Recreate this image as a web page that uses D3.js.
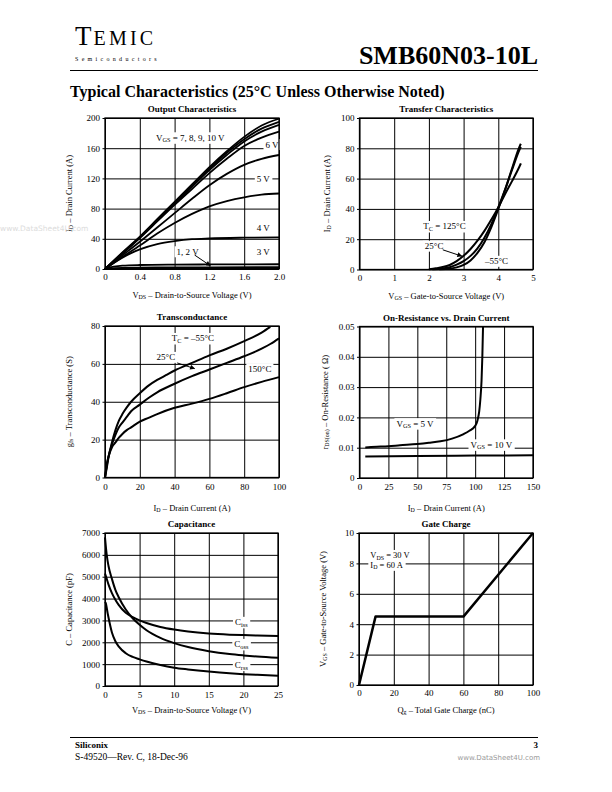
<!DOCTYPE html>
<html>
<head>
<meta charset="utf-8">
<script src="https://cdn.jsdelivr.net/npm/d3@7"></script>
<style>
  body { margin: 0; background: #fff; }
  svg { display: block; font-family: "Liberation Serif", "Times New Roman", serif; }
</style>
</head>
<body>
<div id="page"></div>
<script>
// ---- Output Characteristics (I_D vs V_DS) ----
const outXTicks = [0, 0.4, 0.8, 1.2, 1.6, 2.0];
const outXLabels = ["0", "0.4", "0.8", "1.2", "1.6", "2.0"];
const outYTicks = [0, 40, 80, 120, 160, 200];
const outYLabels = ["0", "40", "80", "120", "160", "200"];
const outVgs10 = [[0,0],[0.2,22],[0.4,43],[0.6,66],[0.8,89],[1.0,112],[1.2,135],[1.4,156],[1.6,175],[1.8,190],[2.0,199]];
const outVgs9  = [[0,0],[0.2,21],[0.4,42],[0.6,65],[0.8,88],[1.0,110],[1.2,133],[1.4,154],[1.6,172],[1.8,186],[2.0,195]];
const outVgs8  = [[0,0],[0.2,21],[0.4,42],[0.6,64],[0.8,87],[1.0,109],[1.2,131],[1.4,151],[1.6,169],[1.8,182],[2.0,191]];
const outVgs7  = [[0,0],[0.2,20],[0.4,41],[0.6,63],[0.8,85],[1.0,106],[1.2,127],[1.4,146],[1.6,163],[1.8,174],[2.0,182]];
const outVgs6  = [[0,0],[0.2,18],[0.4,36],[0.6,55],[0.8,74],[1.0,93],[1.2,111],[1.4,126],[1.6,138],[1.8,146],[2.0,151]];
const outVgs5  = [[0,0],[0.2,16],[0.4,31],[0.6,47],[0.8,61],[1.0,73],[1.2,83],[1.4,90],[1.6,95],[1.8,98.5],[2.0,100]];
const outVgs4  = [[0,0],[0.1,8],[0.2,15],[0.3,21],[0.4,26],[0.6,33],[0.8,37],[1.0,39.5],[1.2,40.5],[1.6,41.5],[2.0,42]];
const outVgs3  = [[0,0],[0.1,3],[0.2,4.5],[0.4,5.3],[0.8,5.8],[1.2,6],[2.0,6.3]];
const outVgs2  = [[0,0],[0.2,1.5],[0.6,2],[1.2,2.2],[2.0,2.4]];
const outVgs1  = [[0,0],[0.4,0.6],[1.2,0.8],[2.0,0.9]];

// ---- Transfer Characteristics (I_D vs V_GS) ----
const trXTicks = [0, 1, 2, 3, 4, 5];
const trXLabels = ["0", "1", "2", "3", "4", "5"];
const trYTicks = [0, 20, 40, 60, 80, 100];
const trYLabels = ["0", "20", "40", "60", "80", "100"];
const tr125 = [[2.0,0.2],[2.2,0.8],[2.4,1.6],[2.6,3],[2.8,5.5],[3.0,9],[3.2,13.5],[3.4,19],[3.6,25.5],[3.8,33],[4.0,41],[4.2,50],[4.4,58.5],[4.6,67.5],[4.65,70]];
const tr25  = [[2.1,0.1],[2.4,0.7],[2.6,1.5],[2.8,3.2],[3.0,5.5],[3.2,9],[3.4,14],[3.6,21],[3.8,30],[4.0,41],[4.2,53],[4.4,66],[4.6,78.5],[4.65,81]];
const trM55 = [[2.3,0.1],[2.6,0.5],[2.8,1.4],[3.0,3],[3.2,6],[3.4,11],[3.6,18],[3.8,28],[4.0,40],[4.2,53],[4.4,67],[4.6,80.5],[4.65,83]];

// ---- Transconductance (g_fs vs I_D) ----
const gfsXTicks = [0, 20, 40, 60, 80, 100];
const gfsXLabels = ["0", "20", "40", "60", "80", "100"];
const gfsYTicks = [0, 20, 40, 60, 80];
const gfsYLabels = ["0", "20", "40", "60", "80"];
const gfsM55 = [[0,0],[1,5],[2,10.5],[4,18.5],[6,25],[8,30],[10,33.5],[12.5,37],[15,40],[20,44.5],[25,48.5],[30,51.5],[35,54],[40,56.5],[50,60.5],[60,64.5],[70,68],[80,72],[90,76.5],[95,79.5]];
const gfs25  = [[0,0],[1,6],[2,11],[4,17.5],[6,22.5],[8,26.5],[10,29],[12.5,32],[15,35],[20,38.5],[25,42],[30,45],[40,49.5],[50,53.5],[60,57],[70,60.5],[80,64],[90,68],[95,70.5],[100,73.5]];
const gfs150 = [[0,0],[1,7],[2,11],[4,16],[6,18.5],[8,21],[10,23],[12.5,25],[15,26.5],[20,29.5],[25,31.5],[30,33.5],[40,36.8],[50,39],[60,41.5],[70,44.5],[80,47.7],[90,50.5],[100,53]];

// ---- On-Resistance vs. Drain Current ----
const rdsXTicks = [0, 25, 50, 75, 100, 125, 150];
const rdsXLabels = ["0", "25", "50", "75", "100", "125", "150"];
const rdsYTicks = [0, 0.01, 0.02, 0.03, 0.04, 0.05];
const rdsYLabels = ["0", "0.01", "0.02", "0.03", "0.04", "0.05"];
const rdsVgs5  = [[5,0.0101],[15,0.0103],[25,0.0105],[35,0.0108],[50,0.0112],[60,0.0116],[70,0.0121],[80,0.0130],[90,0.0145],[95,0.0156],[100,0.0172],[102,0.019],[103.5,0.022],[104.5,0.026],[105.5,0.032],[106.2,0.040],[106.8,0.05]];
const rdsVgs10 = [[5,0.0071],[50,0.0073],[100,0.0074],[150,0.0075]];

// ---- Capacitance ----
const capXTicks = [0, 5, 10, 15, 20, 25];
const capXLabels = ["0", "5", "10", "15", "20", "25"];
const capYTicks = [0, 1000, 2000, 3000, 4000, 5000, 6000, 7000];
const capYLabels = ["0", "1000", "2000", "3000", "4000", "5000", "6000", "7000"];
const ciss = [[0,5150],[0.25,4900],[0.5,4650],[1,4250],[1.5,3950],[2,3700],[3,3350],[4,3150],[5,3000],[6,2880],[8,2700],[10,2580],[12,2490],[15,2400],[18,2350],[20,2330],[22,2310],[25,2290]];
const coss = [[0,6800],[0.25,6000],[0.5,5500],[1,4900],[1.5,4400],[2,4050],[3,3500],[4,3100],[5,2800],[6,2550],[8,2200],[10,1960],[12,1780],[15,1590],[18,1460],[20,1400],[22,1350],[25,1290]];
const crss = [[0,3850],[0.1,3800],[0.4,3300],[1,2450],[1.5,2050],[2,1800],[3,1500],[4,1330],[5,1220],[6,1120],[8,960],[10,840],[12,760],[15,660],[18,580],[20,540],[22,510],[25,470]];

// ---- Gate Charge ----
const qgXTicks = [0, 20, 40, 60, 80, 100];
const qgXLabels = ["0", "20", "40", "60", "80", "100"];
const qgYTicks = [0, 2, 4, 6, 8, 10];
const qgYLabels = ["0", "2", "4", "6", "8", "10"];
const gateCharge = [[0,0],[9.5,4.5],[60,4.5],[100,10]];

const W = 612, H = 792;
const svg = d3.select("#page").append("svg")
    .attr("width", W)
    .attr("height", H);

// punta de flecha
svg.append("defs").append("marker")
    .attr("id", "arrow")
    .attr("viewBox", "0 -5 10 10")
    .attr("refX", 9)
    .attr("refY", 0)
    .attr("markerWidth", 6)
    .attr("markerHeight", 5)
    .attr("markerUnits", "userSpaceOnUse")
    .attr("orient", "auto")
    .append("path")
    .attr("d", "M 0,-5 L 10,0 L 0,5 Z")
    .attr("fill", "#000");

// texto con subindices: partes "texto" o ["sub"]
function rich(t, parts, size) {
    let down = false;
    const shift = size * 0.17;
    parts.forEach(p => {
        const isSub = Array.isArray(p);
        const s = t.append("tspan").text(isSub ? p[0] : p);
        if (isSub) {
            s.attr("font-size", size * 0.7).attr("dy", shift);
            down = true;
        } else if (down) {
            s.attr("dy", -shift);
            down = false;
        }
    });
    return t;
}

function drawChart(c) {
    const x = d3.scaleLinear().domain(c.xDomain).range([0, c.w]);
    const y = d3.scaleLinear().domain(c.yDomain).range([c.h, 0]);
    const g = svg.append("g").attr("transform", `translate(${c.left},${c.top})`);

    g.append("text")
        .attr("x", c.w / 2)
        .attr("y", -6)
        .attr("text-anchor", "middle")
        .attr("font-weight", "bold")
        .attr("font-size", 9)
        .text(c.title);

    // rejilla y ejes
    const xAxis = g.append("g")
        .attr("transform", `translate(0,${c.h})`)
        .call(d3.axisBottom(x).tickValues(c.xTicks).tickFormat((d, i) => c.xLabels[i])
            .tickSize(-c.h).tickPadding(c.xPad));
    const yAxis = g.append("g")
        .call(d3.axisLeft(y).tickValues(c.yTicks).tickFormat((d, i) => c.yLabels[i])
            .tickSize(-c.w).tickPadding(5));
    [xAxis, yAxis].forEach(a => {
        a.attr("font-family", null).attr("font-size", 9);
        a.select(".domain").remove();
        a.selectAll("line").attr("stroke", "#000").attr("stroke-width", 1);
        a.selectAll("text").attr("fill", "#000");
    });
    yAxis.selectAll("line").attr("x1", -2.5);

    const bgLayer = g.append("g");
    const lineLayer = g.append("g");
    const textLayer = g.append("g");

    // curvas
    const line = d3.line()
        .x(d => x(d[0]))
        .y(d => y(d[1]))
        .curve(c.curve || d3.curveMonotoneX);
    lineLayer.selectAll("path")
        .data(c.series)
        .enter().append("path")
        .attr("d", d => line(d))
        .attr("fill", "none")
        .attr("stroke", "#000")
        .attr("stroke-width", c.lineWidth || 2)
        .attr("stroke-linejoin", "round");

    // flechas
    (c.arrows || []).forEach(a => {
        lineLayer.append("line")
            .attr("x1", x(a[0][0])).attr("y1", y(a[0][1]))
            .attr("x2", x(a[1][0])).attr("y2", y(a[1][1]))
            .attr("stroke", "#000")
            .attr("stroke-width", 1)
            .attr("marker-end", "url(#arrow)");
    });

    // etiquetas con fondo blanco
    (c.labels || []).forEach(l => {
        const t = textLayer.append("text")
            .attr("x", x(l.x))
            .attr("y", y(l.y))
            .attr("dy", "0.35em")
            .attr("text-anchor", l.anchor || "middle")
            .attr("font-size", l.size || 9);
        rich(t, l.parts, l.size || 9);
        const b = t.node().getBBox();
        bgLayer.append("rect")
            .attr("x", b.x - 2).attr("y", b.y - 0.5)
            .attr("width", b.width + 4).attr("height", b.height + 1)
            .attr("fill", "#fff");
    });

    // marco
    g.append("rect")
        .attr("width", c.w)
        .attr("height", c.h)
        .attr("fill", "none")
        .attr("stroke", "#000")
        .attr("stroke-width", 1.3);

    // titulos de ejes
    rich(svg.append("text")
        .attr("x", c.left + c.w / 2)
        .attr("y", c.top + c.h + c.xTitleOff)
        .attr("text-anchor", "middle")
        .attr("font-size", 8.5), c.xTitle, 8.5);
    rich(svg.append("text")
        .attr("transform", `translate(${c.yTitleX},${c.top + c.h / 2}) rotate(-90)`)
        .attr("dy", "0.35em")
        .attr("text-anchor", "middle")
        .attr("font-size", 8.5), c.yTitle, 8.5);
}

const leftX = 105, rightX = 359.5, colW = 174;

drawChart({
    title: "Output Characteristics",
    left: leftX, top: 118, w: colW, h: 151,
    xDomain: [0, 2], yDomain: [0, 200],
    xTicks: outXTicks, xLabels: outXLabels, yTicks: outYTicks, yLabels: outYLabels,
    xPad: 5, xTitleOff: 29, yTitleX: 69,
    xTitle: ["V", ["DS"], "  –  Drain-to-Source Voltage (V)"],
    yTitle: ["I", ["D"], "  –  Drain Current (A)"],
    series: [outVgs10, outVgs9, outVgs8, outVgs7, outVgs6, outVgs5, outVgs4, outVgs3, outVgs2, outVgs1],
    lineWidth: 1.8,
    arrows: [[[1.03, 18.5], [1.21, 4.4]]],
    labels: [
        { x: 0.98, y: 174, parts: ["V", ["GS"], " =  7, 8, 9, 10 V"] },
        { x: 1.92, y: 165, parts: ["6 V"] },
        { x: 1.82, y: 119, parts: ["5 V"] },
        { x: 1.82, y: 54, parts: ["4 V"] },
        { x: 1.82, y: 23, parts: ["3 V"] },
        { x: 0.95, y: 23, parts: ["1, 2 V"] }
    ]
});

drawChart({
    title: "Transfer Characteristics",
    left: rightX, top: 118, w: 173.5, h: 151.5,
    xDomain: [0, 5], yDomain: [0, 100],
    xTicks: trXTicks, xLabels: trXLabels, yTicks: trYTicks, yLabels: trYLabels,
    xPad: 5, xTitleOff: 29, yTitleX: 327,
    xTitle: ["V", ["GS"], "  –  Gate-to-Source Voltage (V)"],
    yTitle: ["I", ["D"], "  –  Drain Current (A)"],
    series: [tr125, tr25, trM55],
    arrows: [[[2.4, 13], [2.95, 8.8]]],
    labels: [
        { x: 2.45, y: 28.5, parts: ["T", ["C"], " = 125°C"] },
        { x: 2.15, y: 15.5, parts: ["25°C"] },
        { x: 3.95, y: 5.5, parts: ["–55°C"] }
    ]
});

drawChart({
    title: "Transconductance",
    left: leftX, top: 326, w: colW, h: 151.5,
    xDomain: [0, 100], yDomain: [0, 80],
    xTicks: gfsXTicks, xLabels: gfsXLabels, yTicks: gfsYTicks, yLabels: gfsYLabels,
    xPad: 6, xTitleOff: 33, yTitleX: 69,
    xTitle: ["I", ["D"], "  –  Drain Current (A)"],
    yTitle: ["g", ["fs"], "  –  Transconductance (S)"],
    series: [gfsM55, gfs25, gfs150],
    arrows: [[[41.5, 60.5], [51.5, 57.5]]],
    labels: [
        { x: 50.5, y: 73.5, parts: ["T", ["C"], " = –55°C"] },
        { x: 35, y: 63.5, parts: ["25°C"] },
        { x: 89, y: 57.5, parts: ["150°C"] }
    ]
});

drawChart({
    title: "On-Resistance vs. Drain Current",
    left: rightX, top: 326.5, w: 173.5, h: 151.5,
    xDomain: [0, 150], yDomain: [0, 0.05],
    xTicks: rdsXTicks, xLabels: rdsXLabels, yTicks: rdsYTicks, yLabels: rdsYLabels,
    xPad: 6, xTitleOff: 33, yTitleX: 325,
    xTitle: ["I", ["D"], "  –  Drain Current (A)"],
    yTitle: ["r", ["DS(on)"], "  –  On-Resistance ( Ω)"],
    series: [rdsVgs5, rdsVgs10],
    labels: [
        { x: 48, y: 0.018, parts: ["V", ["GS"], " = 5 V"] },
        { x: 114, y: 0.011, parts: ["V", ["GS"], " = 10 V"] }
    ]
});

drawChart({
    title: "Capacitance",
    left: leftX, top: 533, w: colW - 1, h: 153,
    xDomain: [0, 25], yDomain: [0, 7000],
    xTicks: capXTicks, xLabels: capXLabels, yTicks: capYTicks, yLabels: capYLabels,
    xPad: 6, xTitleOff: 27, yTitleX: 69,
    xTitle: ["V", ["DS"], "  –  Drain-to-Source Voltage (V)"],
    yTitle: ["C  –  Capacitance (pF)"],
    series: [ciss, coss, crss],
    labels: [
        { x: 19.7, y: 2920, parts: ["C", ["iss"]] },
        { x: 19.7, y: 1910, parts: ["C", ["oss"]] },
        { x: 19.7, y: 965, parts: ["C", ["rss"]] }
    ]
});

drawChart({
    title: "Gate Charge",
    left: 359, top: 533, w: colW, h: 152,
    xDomain: [0, 100], yDomain: [0, 10],
    xTicks: qgXTicks, xLabels: qgXLabels, yTicks: qgYTicks, yLabels: qgYLabels,
    xPad: 5, xTitleOff: 28, yTitleX: 323,
    xTitle: ["Q", ["g"], "  –  Total Gate Charge (nC)"],
    yTitle: ["V", ["GS"], "  –  Gate-to-Source Voltage (V)"],
    series: [gateCharge],
    curve: d3.curveLinear,
    lineWidth: 2.5,
    labels: [
        { x: 6.5, y: 8.52, anchor: "start", size: 8.5, parts: ["V", ["DS"], " = 30 V"] },
        { x: 6.5, y: 7.9, anchor: "start", size: 8.5, parts: ["I", ["D"], " = 60 A"] }
    ]
});

// ---- cabecera ----
const logo = svg.append("text").attr("x", 75).attr("y", 45).attr("fill", "#000");
logo.append("tspan").attr("font-size", 27).attr("letter-spacing", 2).text("T");
logo.append("tspan").attr("font-size", 20).attr("letter-spacing", 3.2).text("EMIC");
svg.append("text")
    .attr("x", 75).attr("y", 61)
    .attr("font-size", 6)
    .attr("letter-spacing", 3.3)
    .text("Semiconductors");
svg.append("text")
    .attr("x", 538).attr("y", 64)
    .attr("text-anchor", "end")
    .attr("font-size", 26)
    .attr("font-weight", "bold")
    .text("SMB60N03-10L");
svg.append("line")
    .attr("x1", 70).attr("x2", 538)
    .attr("y1", 70.5).attr("y2", 70.5)
    .attr("stroke", "#000").attr("stroke-width", 1.2);
svg.append("text")
    .attr("x", 70).attr("y", 97)
    .attr("font-size", 16)
    .attr("font-weight", "bold")
    .text("Typical Characteristics (25°C Unless Otherwise Noted)");

// marca de agua
svg.append("text")
    .attr("x", 0).attr("y", 231)
    .attr("font-family", "DejaVu Sans")
    .attr("font-size", 7.5)
    .attr("fill", "#dcdcdc")
    .text("www.DataSheet4U.com");

// ---- pie ----
svg.append("line")
    .attr("x1", 70).attr("x2", 538)
    .attr("y1", 737.5).attr("y2", 737.5)
    .attr("stroke", "#000").attr("stroke-width", 1.2);
svg.append("text")
    .attr("x", 75).attr("y", 748)
    .attr("font-size", 9).attr("font-weight", "bold")
    .text("Siliconix");
svg.append("text")
    .attr("x", 75).attr("y", 760)
    .attr("font-size", 9.5)
    .text("S-49520—Rev. C, 18-Dec-96");
svg.append("text")
    .attr("x", 538).attr("y", 748)
    .attr("text-anchor", "end")
    .attr("font-size", 9).attr("font-weight", "bold")
    .text("3");
svg.append("text")
    .attr("x", 540).attr("y", 760)
    .attr("text-anchor", "end")
    .attr("font-family", "DejaVu Sans")
    .attr("font-size", 7)
    .attr("fill", "#9a9a9a")
    .text("www.DataSheet4U.com");
</script>
</body>
</html>
